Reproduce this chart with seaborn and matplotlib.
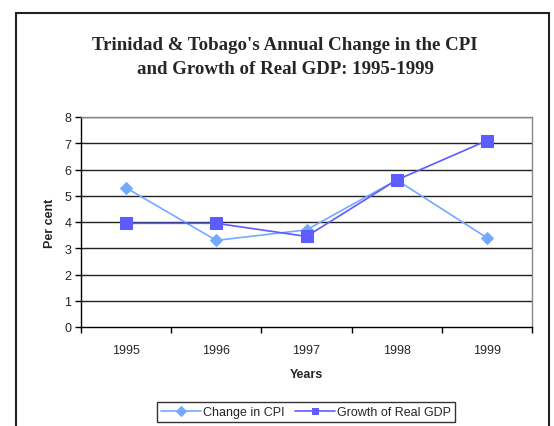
import matplotlib
matplotlib.use("Agg")
import matplotlib.pyplot as plt
from matplotlib.patches import Rectangle
import seaborn as sns
import pandas as pd

years = ["1995", "1996", "1997", "1998", "1999"]
cpi = [5.3, 3.3, 3.7, 5.6, 3.4]
gdp = [3.95, 3.95, 3.45, 5.6, 7.1]

df = pd.DataFrame({"pos": list(range(len(years))), "cpi": cpi, "gdp": gdp})

sns.set_theme(style="white")
plt.rcParams["font.family"] = ["Liberation Sans", "DejaVu Sans"]

fig = plt.figure(figsize=(5.54, 4.27), dpi=100)
ax = fig.add_axes([81/554, 1-328/427, (532-81)/554, (328-118)/427])

cpi_col = "#73A9FF"
gdp_col = "#5C5CFF"
sns.lineplot(data=df, x="pos", y="cpi", ax=ax, color=cpi_col, marker="D", markersize=6,
             markeredgecolor=cpi_col, linewidth=1.2, label="Change in CPI")
sns.lineplot(data=df, x="pos", y="gdp", ax=ax, color=gdp_col, marker="s", markersize=8,
             markeredgecolor=gdp_col, linewidth=1.2, label="Growth of Real GDP")

ax.set_xlim(-0.5, len(years) - 0.5)
ax.set_ylim(0, 8)
ax.set_yticks(range(0, 9))
ax.set_yticklabels([str(i) for i in range(0, 9)], fontsize=9)
ax.set_xticks(range(len(years)))
ax.set_xticklabels(years, fontsize=9)
ax.set_xticks([i - 0.5 for i in range(len(years) + 1)], minor=True)
ax.tick_params(axis="x", which="major", length=0, pad=12)
ax.tick_params(axis="x", which="minor", length=4, width=1, color="black", direction="out", bottom=True)
ax.tick_params(axis="y", length=4, width=1, color="black", direction="out", left=True, pad=3)
for y in range(1, 9):
    ax.axhline(y, color="#222222", linewidth=1.0, zorder=0)
ax.set_xlabel("Years", fontsize=9, fontweight="bold", labelpad=9)
ax.set_ylabel("Per cent", fontsize=9, fontweight="bold", labelpad=6)
for s in ["top", "right"]:
    ax.spines[s].set_color("#888888")
    ax.spines[s].set_linewidth(1.0)
for s in ["left", "bottom"]:
    ax.spines[s].set_color("black")
    ax.spines[s].set_linewidth(1.0)

leg = ax.legend(loc="center", bbox_to_anchor=(306/554, 1-413/427), bbox_transform=fig.transFigure,
                ncol=2, fontsize=9, frameon=True, fancybox=False, borderpad=0.3,
                handlelength=3.2, handletextpad=0.2, columnspacing=0.8, borderaxespad=0)
leg.get_frame().set_edgecolor("black")
leg.get_frame().set_linewidth(1.0)
for h in leg.legend_handles:
    h.set_markersize(5)

fig.text(285/554, 1-45/427, "Trinidad & Tobago's Annual Change in the CPI", ha="center", va="center",
         fontsize=13.6, fontweight="bold", family="Liberation Serif")
fig.text(285/554, 1-69/427, "and Growth of Real GDP: 1995-1999", ha="center", va="center",
         fontsize=13.6, fontweight="bold", family="Liberation Serif")

fig.patches.append(Rectangle((16/554, -0.05), (549-16)/554, 1.05 - 14/427, transform=fig.transFigure,
                             fill=False, edgecolor="#222222", linewidth=1.5))

fig.savefig("out.png", dpi=100)
